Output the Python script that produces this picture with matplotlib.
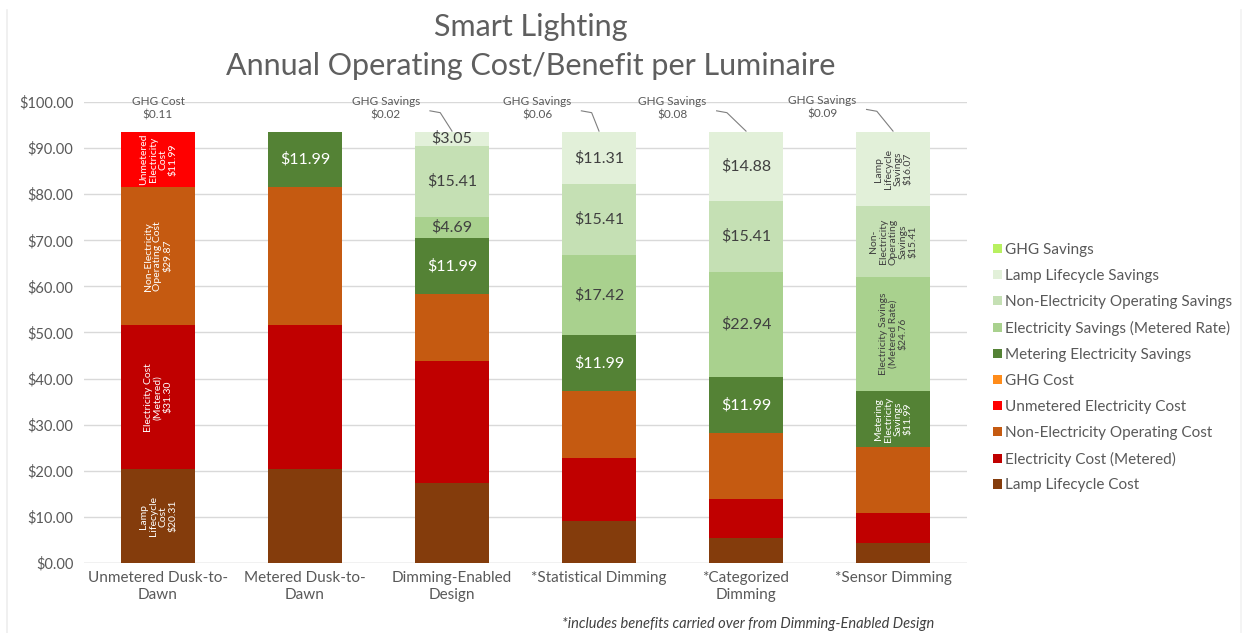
import matplotlib
matplotlib.use("Agg")
import matplotlib.pyplot as plt
import numpy as np
from matplotlib.lines import Line2D

plt.rcParams['font.family'] = ['Lato', 'DejaVu Sans']

categories = ["Unmetered Dusk-to-\nDawn", "Metered Dusk-to-\nDawn", "Dimming-Enabled\nDesign",
              "*Statistical Dimming", "*Categorized\nDimming", "*Sensor Dimming"]

# stacked bottom -> top
lamp_lifecycle_cost = [20.31, 20.31, 17.26, 9.00, 5.43, 4.24]
electricity_cost_metered = [31.30, 31.30, 26.61, 13.88, 8.36, 6.54]
non_electricity_operating_cost = [29.87, 29.87, 14.46, 14.46, 14.46, 14.46]
unmetered_electricity_cost = [11.99, 0, 0, 0, 0, 0]
ghg_cost = [0.11, 0.11, 0.09, 0.05, 0.03, 0.02]
metering_electricity_savings = [0, 11.99, 11.99, 11.99, 11.99, 11.99]
electricity_savings_metered_rate = [0, 0, 4.69, 17.42, 22.94, 24.76]
non_electricity_operating_savings = [0, 0, 15.41, 15.41, 15.41, 15.41]
lamp_lifecycle_savings = [0, 0, 3.05, 11.31, 14.88, 16.07]
ghg_savings = [0, 0, 0.02, 0.06, 0.08, 0.09]

series = [
    ("Lamp Lifecycle Cost", lamp_lifecycle_cost, "#843C0C"),
    ("Electricity Cost (Metered)", electricity_cost_metered, "#C00000"),
    ("Non-Electricity Operating Cost", non_electricity_operating_cost, "#C55A11"),
    ("Unmetered Electricity Cost", unmetered_electricity_cost, "#FF0000"),
    ("GHG Cost", ghg_cost, "#FF8C1A"),
    ("Metering Electricity Savings", metering_electricity_savings, "#548235"),
    ("Electricity Savings (Metered Rate)", electricity_savings_metered_rate, "#A9D18E"),
    ("Non-Electricity Operating Savings", non_electricity_operating_savings, "#C5E0B4"),
    ("Lamp Lifecycle Savings", lamp_lifecycle_savings, "#E2F0D9"),
    ("GHG Savings", ghg_savings, "#B8F060"),
]

fig = plt.figure(figsize=(12.46, 6.33), dpi=100)
ax = fig.add_axes([0.0678, 0.1106, 0.7079, 0.7283])

x = np.arange(len(categories))
bottom = np.zeros(len(categories))
bars = {}
for name, vals, col in series:
    v = np.array(vals, dtype=float)
    ax.bar(x, v, 0.5, bottom=bottom, color=col, label=name, zorder=3, linewidth=0)
    bars[name] = (v, bottom.copy())
    bottom = bottom + v

ax.set_xlim(-0.5, 5.5)
ax.set_ylim(0, 100)
ax.set_yticks(np.arange(0, 101, 10))
ax.set_yticklabels([f"${t:.2f}" for t in np.arange(0, 101, 10)], color="#595959", fontsize=10.5)
ax.set_xticks(x)
ax.set_xticklabels(categories, color="#595959", fontsize=11, linespacing=1.25)
ax.tick_params(length=0, pad=6)
ax.tick_params(axis='y', pad=8)
ax.grid(axis='y', color="#D9D9D9", lw=1, zorder=0)
for s in ax.spines.values():
    s.set_visible(False)
ax.axhline(0, color="#D9D9D9", lw=1, zorder=2)

def seg_label(name, i, text, color, fs=11.5, rot=0, ls=1.1):
    v, b = bars[name]
    ax.text(x[i], b[i] + v[i] / 2, text, ha='center', va='center', color=color,
            fontsize=fs, rotation=rot, zorder=5, linespacing=ls)

dark = "#404040"
white = "white"
rfs = 7.5
rls = 1.12
# Bar 0 rotated labels
seg_label("Unmetered Electricity Cost", 0, "Unmetered\nElectricity\nCost\n$11.99", white, rfs, 90, rls)
seg_label("Non-Electricity Operating Cost", 0, "Non-Electricity\nOperating Cost\n$29.87", white, rfs, 90, rls)
seg_label("Electricity Cost (Metered)", 0, "Electricity Cost\n(Metered)\n$31.30", white, rfs, 90, rls)
seg_label("Lamp Lifecycle Cost", 0, "Lamp\nLifecycle\nCost\n$20.31", white, rfs, 90, rls)
# Bar 1
seg_label("Metering Electricity Savings", 1, "$11.99", white)
# Bars 2-4
for i in (2, 3, 4):
    seg_label("Metering Electricity Savings", i, f"${metering_electricity_savings[i]:.2f}", white)
    seg_label("Electricity Savings (Metered Rate)", i, f"${electricity_savings_metered_rate[i]:.2f}", dark)
    seg_label("Non-Electricity Operating Savings", i, f"${non_electricity_operating_savings[i]:.2f}", dark)
    seg_label("Lamp Lifecycle Savings", i, f"${lamp_lifecycle_savings[i]:.2f}", dark)
# Bar 5 rotated
seg_label("Metering Electricity Savings", 5, "Metering\nElectricity\nSavings\n$11.99", white, rfs, 90, rls)
seg_label("Electricity Savings (Metered Rate)", 5, "Electricity Savings\n(Metered Rate)\n$24.76", dark, rfs, 90, rls)
seg_label("Non-Electricity Operating Savings", 5, "Non-\nElectricity\nOperating\nSavings\n$15.41", dark, rfs, 90, rls)
seg_label("Lamp Lifecycle Savings", 5, "Lamp\nLifecycle\nSavings\n$16.07", dark, rfs, 90, rls)

# GHG labels
tops = bottom
ax.text(x[0], tops[0] + 2.3, f"GHG Cost\n${ghg_cost[0]:.2f}", ha='center', va='bottom',
        fontsize=8.5, color="#595959", linespacing=1.3)
ghg_off = {2: (-0.45, 2.3), 3: (-0.42, 2.3), 4: (-0.50, 2.3), 5: (-0.48, 2.6)}
for i, (dx, dy) in ghg_off.items():
    tx, ty = x[i] + dx, tops[i] + dy
    ax.text(tx, ty, f"GHG Savings\n${ghg_savings[i]:.2f}", ha='center', va='bottom',
            fontsize=8.5, color="#595959", linespacing=1.3)
    lx0 = tx + 0.30
    ly0 = ty + 2.2
    ax.plot([lx0, lx0 + 0.07, x[i]], [ly0, ly0 - 0.4, tops[i] + 0.1], color="#7F7F7F",
            lw=0.8, zorder=4, clip_on=False)

# Legend
handles, labels = ax.get_legend_handles_labels()
leg = fig.legend(handles[::-1], labels[::-1], loc='center left', bbox_to_anchor=(0.786, 0.419),
                 frameon=False, fontsize=11, handlelength=0.55, handleheight=0.55,
                 handletextpad=0.2, labelspacing=0.78, labelcolor="#595959")

fig.text(0.426, 0.957, "Smart Lighting", ha='center', va='center', fontsize=22,
         color="#5f5f5f")
fig.text(0.426, 0.895, "Annual Operating Cost/Benefit per Luminaire", ha='center', va='center',
         fontsize=22, color="#5f5f5f")

fig.text(0.6005, 0.003, "*includes benefits carried over from Dimming-Enabled Design", ha='center',
         va='bottom', fontsize=10.5, style='italic', color="#404040")

# faint chart border
fig.add_artist(Line2D([7/1246, 7/1246], [0, 1 - 10/633], color="#EEEEEE", lw=1.2))
fig.add_artist(Line2D([1241/1246, 1241/1246], [0, 1 - 10/633], color="#F2F2F2", lw=1.2))

fig.savefig("out.png", dpi=100)
